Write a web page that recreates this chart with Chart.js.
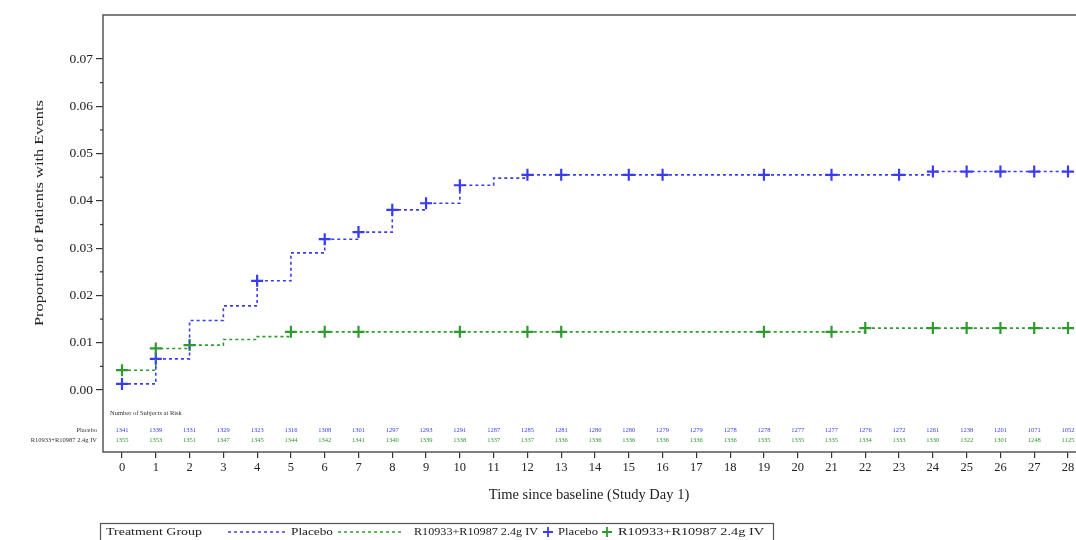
<!DOCTYPE html>
<html>
<head>
<meta charset="utf-8">
<script src="https://cdn.jsdelivr.net/npm/chart.js@4/dist/chart.umd.min.js"></script>
<style>
  html, body { margin: 0; padding: 0; background: #fff; }
  #wrap { width: 1076px; height: 540px; position: relative; }
</style>
</head>
<body>
<div id="wrap"><canvas id="c" width="1076" height="540"></canvas></div>
<script>
// ---- data ----
const dayTicks = [0,1,2,3,4,5,6,7,8,9,10,11,12,13,14,15,16,17,18,19,20,21,22,23,24,25,26,27,28];
const yTickValues = [0,0.005,0.01,0.015,0.02,0.025,0.03,0.035,0.04,0.045,0.05,0.055,0.06,0.065,0.07];

const placeboStepDays   = [0, 1, 2, 3, 4, 5, 6, 7, 8, 9, 10, 11, 12, 24, 28];
const placeboStepValues = [0.0013, 0.0066, 0.0147, 0.0178, 0.0231, 0.0290, 0.0319, 0.0334, 0.0381, 0.0395, 0.0433, 0.0448, 0.0455, 0.0462, 0.0462];
const activeStepDays    = [0, 1, 2, 3, 4, 5, 22, 28];
const activeStepValues  = [0.0042, 0.0088, 0.0095, 0.0107, 0.0113, 0.0123, 0.0131, 0.0131];

const placeboCensorDays = [0,1,4,6,7,8,9,10,12,13,15,16,19,21,23,24,25,26,27,28];
const activeCensorDays  = [0,1,2,5,6,7,10,12,13,19,21,22,24,25,26,27,28];

const placeboAtRisk = [1341,1339,1331,1329,1323,1316,1308,1301,1297,1293,1291,1287,1285,1281,1280,1280,1279,1279,1278,1278,1277,1277,1276,1272,1261,1238,1201,1071,1052];
const activeAtRisk  = [1355,1353,1351,1347,1345,1344,1342,1341,1340,1339,1338,1337,1337,1336,1336,1336,1336,1336,1336,1335,1335,1335,1334,1333,1330,1322,1301,1248,1125];

const seriesNames = ['Placebo', 'R10933+R10987 2.4g IV'];
const yTitle = 'Proportion of Patients with Events';
const xTitle = 'Time since baseline (Study Day 1)';
const riskHeader = 'Number of Subjects at Risk';
const legendTitle = 'Treatment Group';

const BLUE = '#3b3bf0';
const GREEN = '#2f9a2f';
const SERIF = '"Liberation Serif", "DejaVu Serif", serif';

function stepValueAt(days, values, d) {
  let v = values[0];
  for (let i = 0; i < days.length; i++) { if (days[i] <= d) v = values[i]; }
  return v;
}
const toXY = (xs, ys) => xs.map((x, i) => ({x: x, y: ys[i]}));
const censorPts = (cd, sd, sv) => cd.map(d => ({x: d, y: stepValueAt(sd, sv, d)}));

// draw text stretched horizontally to a target width
function fitText(ctx, text, x, y, w) {
  const m = ctx.measureText(text).width;
  const s = w / m;
  ctx.save();
  ctx.translate(x, y);
  ctx.scale(s, 1);
  ctx.fillText(text, 0, 0);
  ctx.restore();
}

const decorPlugin = {
  id: 'decor',
  afterDraw(chart) {
    const ctx = chart.ctx;
    const a = chart.chartArea;
    const xs = chart.scales.x, ys = chart.scales.y;
    ctx.save();
    // frame (the reference is cropped on the right, so no right border shows)
    ctx.strokeStyle = '#555';
    ctx.lineWidth = 1.5;
    ctx.beginPath();
    ctx.moveTo(chart.width, a.top); ctx.lineTo(a.left, a.top);
    ctx.lineTo(a.left, a.bottom); ctx.lineTo(chart.width, a.bottom);
    ctx.stroke();

    // minor y ticks (short)
    ctx.strokeStyle = '#333';
    ctx.lineWidth = 1.2;
    yTickValues.forEach(v => {
      if (Math.abs(v * 100 - Math.round(v * 100)) > 1e-6) {
        const py = ys.getPixelForValue(v);
        ctx.beginPath(); ctx.moveTo(a.left - 3, py); ctx.lineTo(a.left, py); ctx.stroke();
      }
    });

    // x tick labels
    ctx.fillStyle = '#222';
    ctx.font = '12.5px ' + SERIF;
    ctx.textAlign = 'center';
    ctx.textBaseline = 'middle';
    dayTicks.forEach(d => ctx.fillText(String(d), xs.getPixelForValue(d), a.bottom + 16));

    // risk table
    ctx.font = '6.5px ' + SERIF;
    ctx.fillStyle = '#333';
    ctx.textAlign = 'left';
    ctx.fillText(riskHeader, a.left + 7, ys.getPixelForValue(-0.0049));
    const yP = ys.getPixelForValue(-0.0085), yA = ys.getPixelForValue(-0.0107);
    ctx.textAlign = 'right';
    ctx.fillText(seriesNames[0], a.left - 6, yP);
    ctx.fillText(seriesNames[1], a.left - 6, yA);
    ctx.textAlign = 'center';
    dayTicks.forEach((d, i) => {
      const px = xs.getPixelForValue(d);
      ctx.fillStyle = BLUE;
      ctx.fillText(String(placeboAtRisk[i]), px, yP);
      ctx.fillStyle = GREEN;
      ctx.fillText(String(activeAtRisk[i]), px, yA);
    });

    // axis titles
    ctx.fillStyle = '#222';
    ctx.font = '14.5px ' + SERIF;
    ctx.textAlign = 'center';
    ctx.fillText(xTitle, 589, 495);
    ctx.save();
    ctx.translate(40, 213);
    ctx.rotate(-Math.PI / 2);
    ctx.font = '11.5px ' + SERIF;
    ctx.textAlign = 'left';
    fitText(ctx, yTitle, -113, 0, 226);
    ctx.restore();

    // legend
    const top = 523, h = 20;
    ctx.strokeStyle = '#555';
    ctx.lineWidth = 1.2;
    ctx.strokeRect(100.5, top + 0.5, 673, h);
    const ly = top + 9;
    ctx.font = '11px ' + SERIF;
    ctx.textAlign = 'left';
    ctx.fillStyle = '#222';
    fitText(ctx, legendTitle, 106, ly, 96);
    ctx.lineWidth = 1.5;
    ctx.setLineDash([3, 3]);
    ctx.strokeStyle = BLUE;
    ctx.beginPath(); ctx.moveTo(228, ly); ctx.lineTo(286, ly); ctx.stroke();
    fitText(ctx, seriesNames[0], 291, ly, 42);
    ctx.strokeStyle = GREEN;
    ctx.beginPath(); ctx.moveTo(338, ly); ctx.lineTo(401, ly); ctx.stroke();
    fitText(ctx, seriesNames[1], 414, ly, 124);
    ctx.setLineDash([]);
    const plus = (cx, color) => {
      ctx.strokeStyle = color; ctx.lineWidth = 1.8;
      ctx.beginPath(); ctx.moveTo(cx - 5, ly); ctx.lineTo(cx + 5, ly);
      ctx.moveTo(cx, ly - 5); ctx.lineTo(cx, ly + 5); ctx.stroke();
    };
    plus(548, BLUE);
    fitText(ctx, seriesNames[0], 558, ly, 40);
    plus(607, GREEN);
    fitText(ctx, seriesNames[1], 618, ly, 146);
    ctx.restore();
  }
};

const chart = new Chart(document.getElementById('c'), {
  type: 'line',
  data: {
    datasets: [
      { label: seriesNames[0], data: toXY(placeboStepDays, placeboStepValues), stepped: 'before',
        borderColor: BLUE, borderWidth: 1.6, borderDash: [3, 3], pointRadius: 0, fill: false, clip: false },
      { label: seriesNames[1], data: toXY(activeStepDays, activeStepValues), stepped: 'before',
        borderColor: GREEN, borderWidth: 1.6, borderDash: [3, 3], pointRadius: 0, fill: false, clip: false },
      { label: seriesNames[0] + ' censored', data: censorPts(placeboCensorDays, placeboStepDays, placeboStepValues),
        showLine: false, pointStyle: 'cross', pointRadius: 6, pointBorderWidth: 2.2, borderColor: BLUE, backgroundColor: BLUE, clip: false },
      { label: seriesNames[1] + ' censored', data: censorPts(activeCensorDays, activeStepDays, activeStepValues),
        showLine: false, pointStyle: 'cross', pointRadius: 6, pointBorderWidth: 2.2, borderColor: GREEN, backgroundColor: GREEN, clip: false }
    ]
  },
  options: {
    responsive: false,
    animation: false,
    layout: { padding: { top: 15, right: 1, left: 0, bottom: 0 } },
    plugins: { legend: { display: false }, tooltip: { enabled: false } },
    scales: {
      x: {
        type: 'linear', min: -0.56, max: 28.2,
        afterBuildTicks: s => { s.ticks = dayTicks.map(v => ({value: v})); },
        afterFit: s => { s.height = 88; },
        grid: { display: true, drawOnChartArea: false, drawTicks: true, tickLength: 6, color: '#333', lineWidth: 1.2 },
        border: { display: false },
        ticks: { display: false }
      },
      y: {
        type: 'linear', min: -0.0131, max: 0.0793,
        afterBuildTicks: s => { s.ticks = yTickValues.map(v => ({value: v})); },
        afterFit: s => { s.width = 103; },
        grid: { display: true, drawOnChartArea: false, drawTicks: true, tickLength: 7, lineWidth: 1.2,
                color: c => (c.tick && Math.abs(c.tick.value * 100 - Math.round(c.tick.value * 100)) < 1e-6) ? '#333' : 'rgba(0,0,0,0)' },
        border: { display: false },
        ticks: { color: '#222', font: { family: SERIF, size: 13.5 }, padding: 3, autoSkip: false,
                 callback: v => (Math.abs(v * 100 - Math.round(v * 100)) < 1e-6) ? v.toFixed(2) : '' }
      }
    }
  },
  plugins: [decorPlugin]
});

// fit the day range so that day 0 and day 28 sit where the reference puts them
(function () {
  const L = chart.chartArea.left, R = chart.chartArea.right;
  const px0 = 122, px28 = 1068;
  const k = (px28 - px0) / 28;
  const mn = -(px0 - L) / k;
  const mx = mn + (R - L) / k;
  chart.options.scales.x.min = mn;
  chart.options.scales.x.max = mx;
  chart.update();
})();
</script>
</body>
</html>
